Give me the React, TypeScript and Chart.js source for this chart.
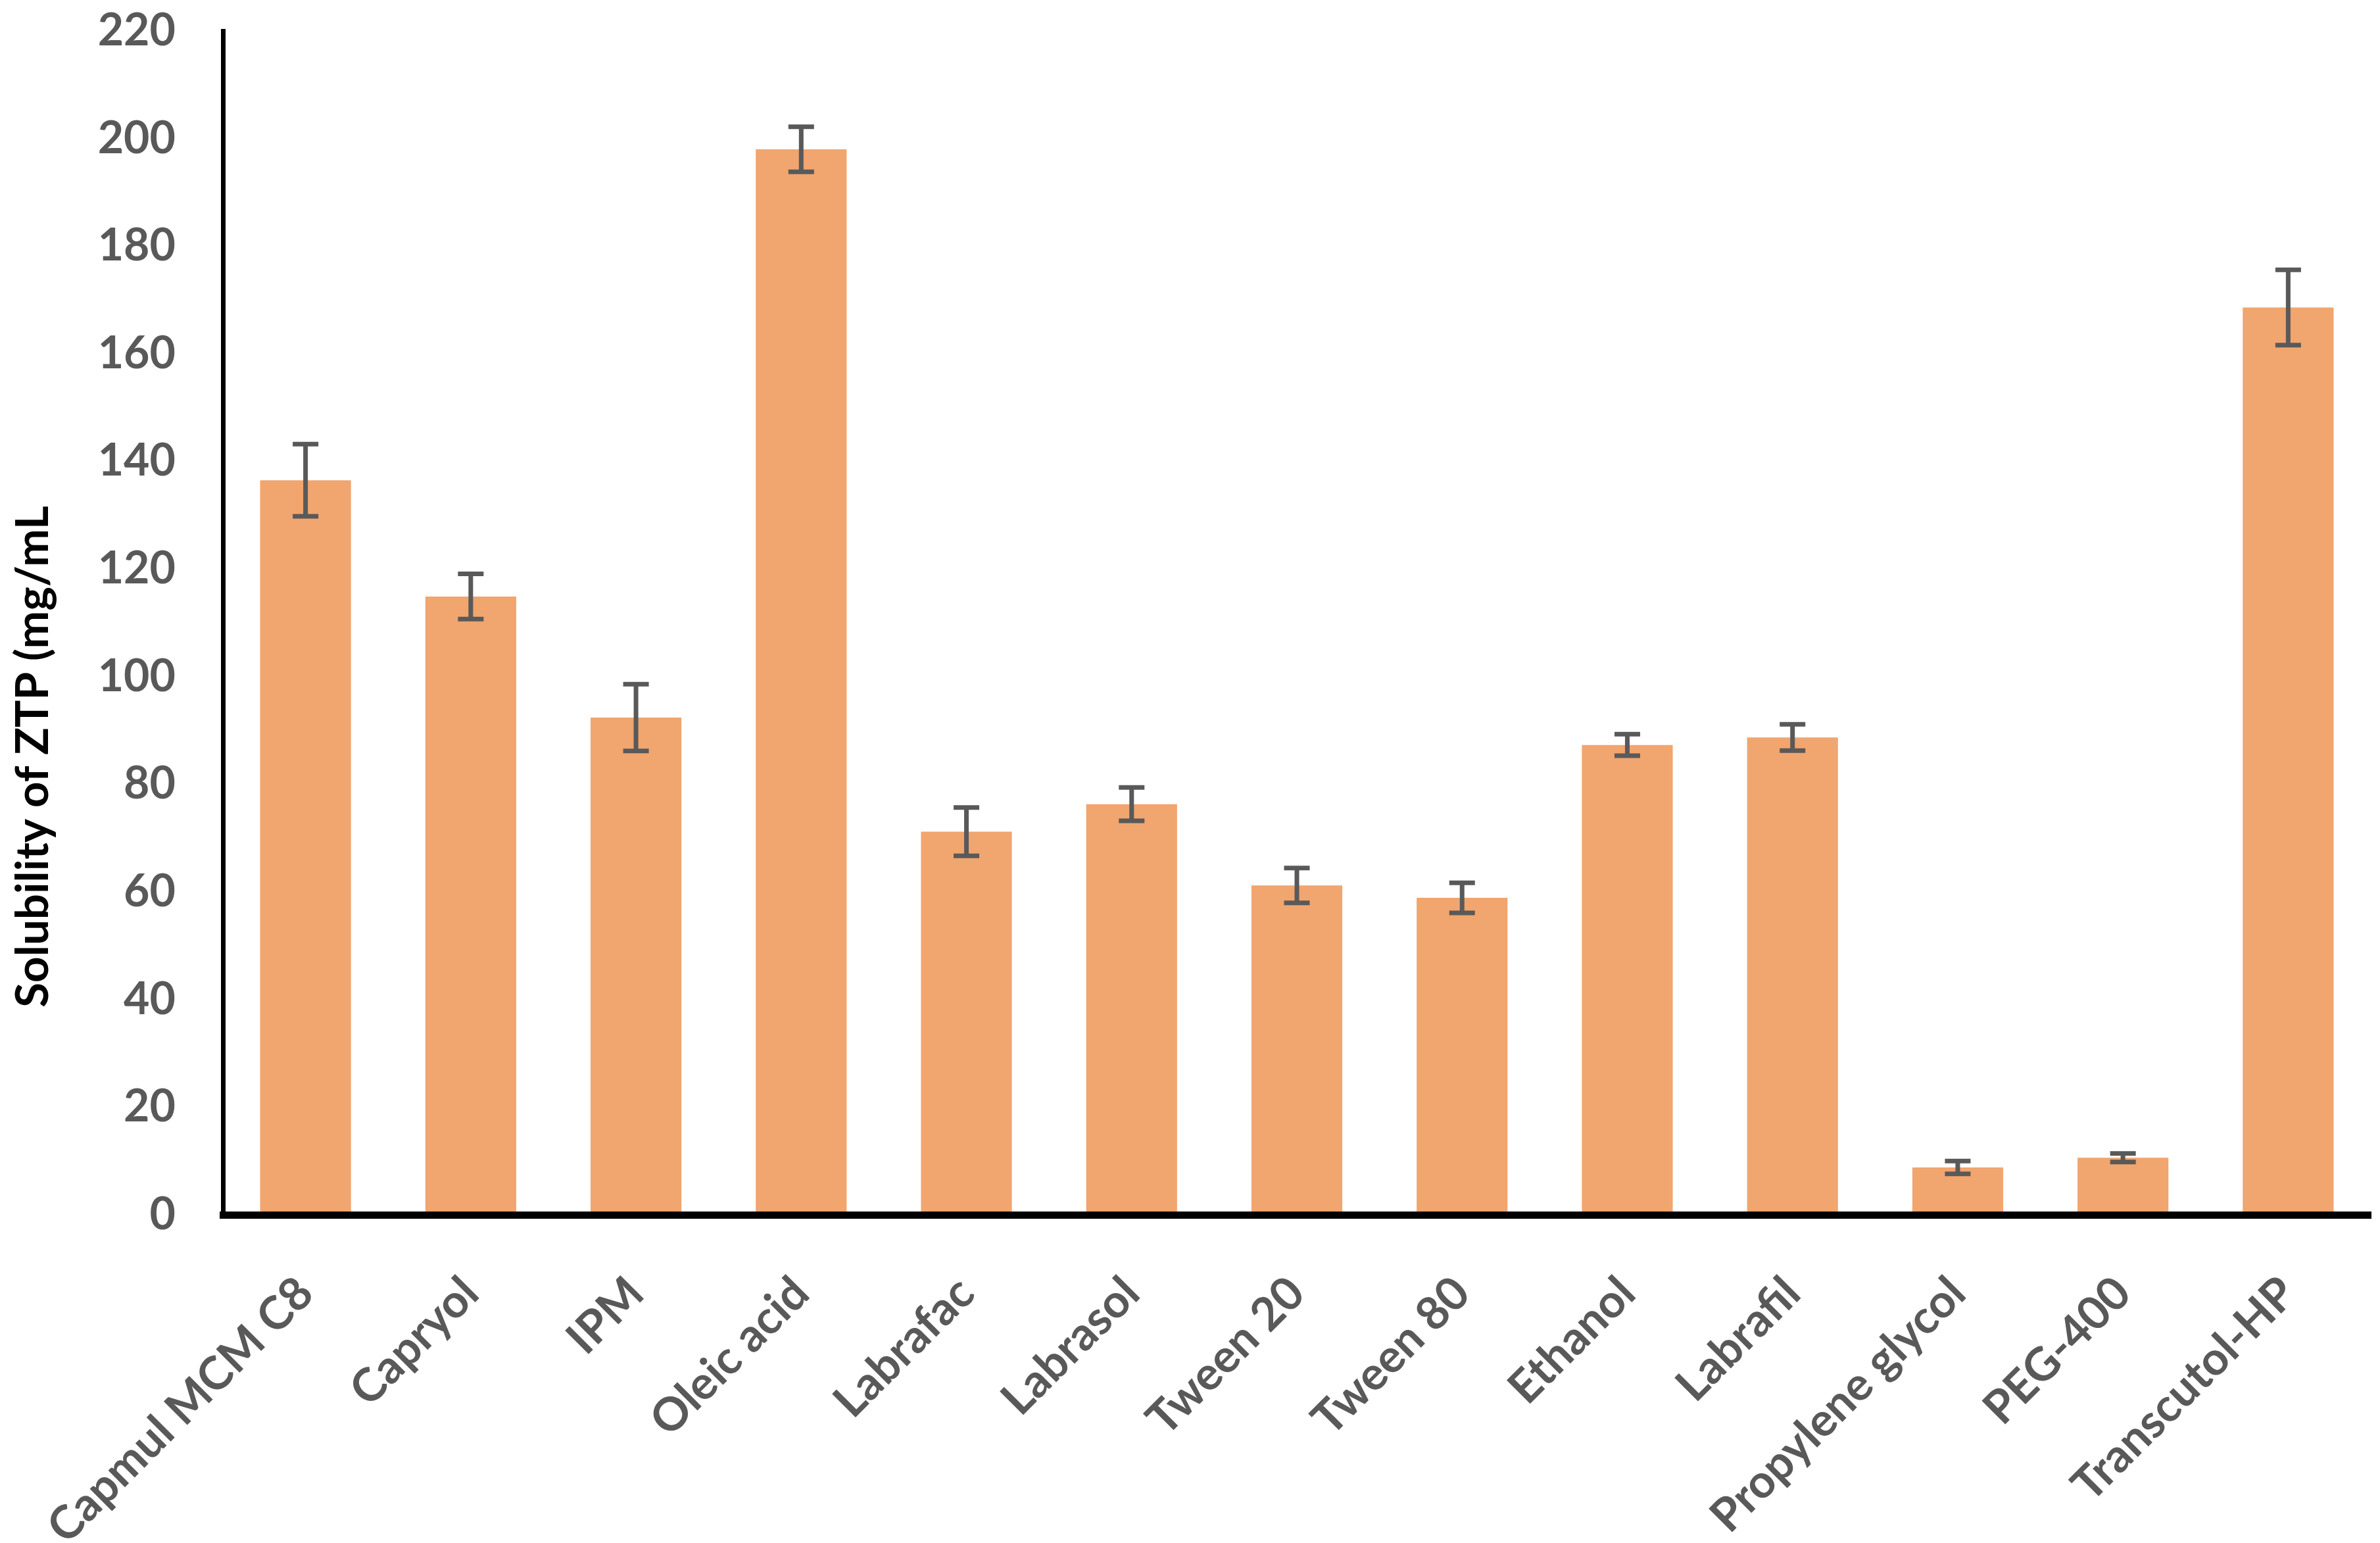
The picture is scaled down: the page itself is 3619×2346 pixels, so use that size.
import React, { useEffect, useRef } from "react";
import { Chart, registerables } from "chart.js";

Chart.register(...registerables);

const categories = [
  "Capmul MCM C8",
  "Capryol",
  "IPM",
  "Oleic acid",
  "Labrafac",
  "Labrasol",
  "Tween 20",
  "Tween 80",
  "Ethanol",
  "Labrafil",
  "Propylene glycol",
  "PEG-400",
  "Transcutol-HP",
];

const solubility = [136.5, 114.9, 92.4, 198.0, 71.2, 76.3, 61.2, 58.9, 87.3, 88.7, 8.8, 10.6, 168.6];
const errors = [6.7, 4.2, 6.2, 4.2, 4.5, 3.1, 3.25, 2.8, 2.0, 2.45, 1.2, 0.8, 7.0];

const yTitle = "Solubility of ZTP (mg/mL";
const yMin = 0;
const yMax = 220;
const yStep = 20;

const FONT = "Lato";
const GRAY = "#595959";

const errorBarPlugin = {
  id: "errorBars",
  afterDatasetsDraw(chart: any) {
    const ctx = chart.ctx;
    const meta = chart.getDatasetMeta(0);
    const y = chart.scales.y;
    ctx.save();
    ctx.strokeStyle = GRAY;
    ctx.lineWidth = 7;
    ctx.lineCap = "butt";
    meta.data.forEach((el: any, i: number) => {
      const v = solubility[i];
      const e = errors[i];
      const x = el.x;
      const yt = y.getPixelForValue(v + e);
      const yb = y.getPixelForValue(v - e);
      const hw = 19.5;
      ctx.beginPath();
      ctx.moveTo(x, yt);
      ctx.lineTo(x, yb);
      ctx.moveTo(x - hw, yt);
      ctx.lineTo(x + hw, yt);
      ctx.moveTo(x - hw, yb);
      ctx.lineTo(x + hw, yb);
      ctx.stroke();
    });
    ctx.restore();
  },
};

const yTitlePlugin = {
  id: "yTitleCustom",
  afterDraw(chart: any) {
    const ctx = chart.ctx;
    const ca = chart.chartArea;
    ctx.save();
    ctx.translate(51, ca.top + (ca.bottom - ca.top) * 0.613);
    ctx.rotate(-Math.PI / 2);
    ctx.font = `bold 69px ${FONT}`;
    ctx.fillStyle = "#000000";
    ctx.textAlign = "center";
    ctx.textBaseline = "middle";
    ctx.fillText(yTitle, 0, 0);
    ctx.restore();
  },
};

export default function App() {
  const ref = useRef<HTMLCanvasElement | null>(null);

  useEffect(() => {
    document.body.style.margin = "0";
    const canvas = ref.current;
    if (!canvas) return;
    const chart = new Chart(canvas, {
      type: "bar",
      data: {
        labels: categories,
        datasets: [
          {
            data: solubility,
            backgroundColor: "#F1A56F",
            borderWidth: 0,
            categoryPercentage: 1,
            barPercentage: 0.55,
          },
        ],
      },
      options: {
        responsive: false,
        animation: false,
        devicePixelRatio: 1,
        layout: { padding: { top: 47, right: 14, left: 0, bottom: 0 } },
        plugins: {
          legend: { display: false },
          tooltip: { enabled: false },
          title: { display: false },
        },
        scales: {
          x: {
            grid: { display: false, drawTicks: false },
            border: { display: true, color: "#000000", width: 11, z: 1 },
            ticks: {
              autoSkip: false,
              maxRotation: 45,
              minRotation: 45,
              padding: 78,
              color: GRAY,
              font: { family: FONT, weight: "bold", size: 70 },
            },
            afterFit: (s: any) => {
              s.height = 2346 - 1847;
              s.paddingLeft = 0;
              s.paddingRight = 0;
              s.paddingTop = 0;
              s.paddingBottom = 0;
            },
          },
          y: {
            min: yMin,
            max: yMax,
            grid: { display: false, drawTicks: false },
            border: { display: true, color: "#000000", width: 7, z: 1 },
            ticks: {
              stepSize: yStep,
              padding: 72,
              color: GRAY,
              font: { family: FONT, weight: "bold", size: 68 },
            },
            afterFit: (s: any) => {
              s.width = 339;
              s.paddingTop = 0;
              s.paddingBottom = 0;
              s.paddingLeft = 0;
              s.paddingRight = 0;
            },
          },
        },
      },
      plugins: [errorBarPlugin, yTitlePlugin],
    });
    return () => chart.destroy();
  }, []);

  return (
    <div style={{ width: 3619, height: 2346, background: "#ffffff" }}>
      <canvas ref={ref} width={3619} height={2346} style={{ display: "block" }} />
    </div>
  );
}
